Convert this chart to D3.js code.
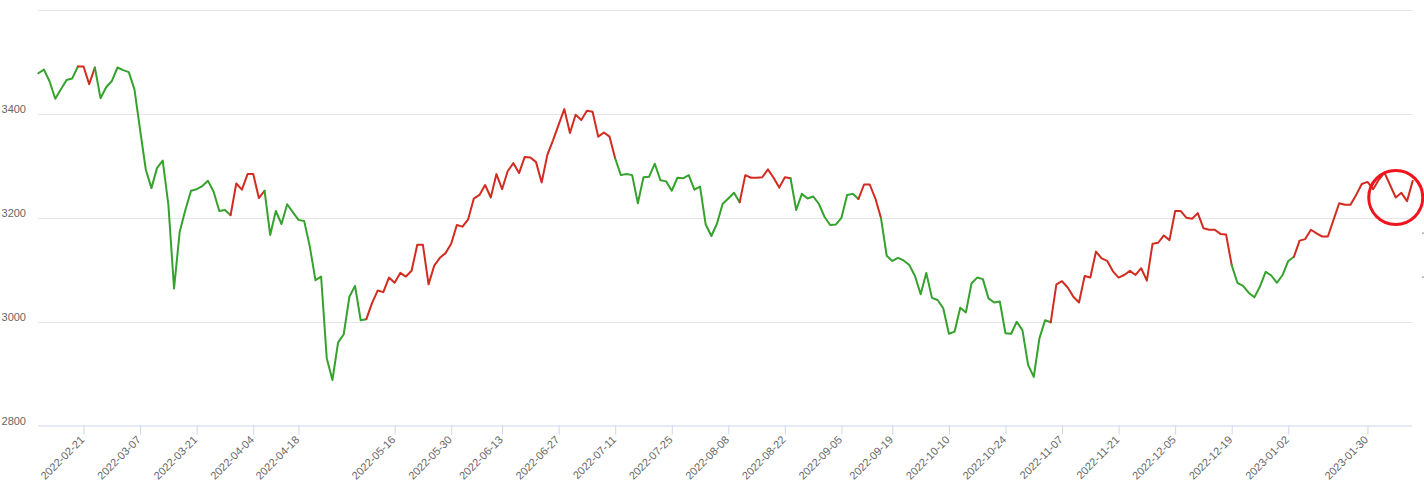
<!DOCTYPE html>
<html>
<head>
<meta charset="utf-8">
<script src="https://cdn.jsdelivr.net/npm/d3@7/dist/d3.min.js"></script>
<style>
  html, body { margin: 0; padding: 0; background: #ffffff; }
  svg { display: block; }
  text { font-family: "Liberation Sans", Arial, sans-serif; }
</style>
</head>
<body>
<svg id="chart" width="1424" height="501"></svg>
<script>
// ---- categories: trading days, listed per month ----
const tradingMonths = [
  ["2022-02", [9,10,11,14,15,16,17,18,21,22,23,24,25,28]],
  ["2022-03", [1,2,3,4,7,8,9,10,11,14,15,16,17,18,21,22,23,24,25,28,29,30,31]],
  ["2022-04", [1,6,7,8,11,12,13,14,15,18,19,20,21,22,25,26,27,28,29]],
  ["2022-05", [5,6,9,10,11,12,13,16,17,18,19,20,23,24,25,26,27,30,31]],
  ["2022-06", [1,2,6,7,8,9,10,13,14,15,16,17,20,21,22,23,24,27,28,29,30]],
  ["2022-07", [1,4,5,6,7,8,11,12,13,14,15,18,19,20,21,22,25,26,27,28,29]],
  ["2022-08", [1,2,3,4,5,8,9,10,11,12,15,16,17,18,19,22,23,24,25,26,29,30,31]],
  ["2022-09", [1,2,5,6,7,8,9,13,14,15,16,19,20,21,22,23,26,27,28,29,30]],
  ["2022-10", [10,11,12,13,14,17,18,19,20,21,24,25,26,27,28,31]],
  ["2022-11", [1,2,3,4,7,8,9,10,11,14,15,16,17,18,21,22,23,24,25,28,29,30]],
  ["2022-12", [1,2,5,6,7,8,9,12,13,14,15,16,19,20,21,22,23,26,27,28,29,30]],
  ["2023-01", [3,4,5,6,9,10,11,12,13,16,17,18,19,20,30,31]],
  ["2023-02", [1,2,3,6,7,8,9]]
];
const dates = tradingMonths.flatMap(([m, ds]) => ds.map(d => m + "-" + String(d).padStart(2, "0")));

// ---- series values (index close) ----
const values = [
  3479,3486,3463,3430,3448,3466,3469,3492,3492,3458,
  3490,3431,3452,3464,3490,3485,3481,3448,3370,3294,
  3258,3297,3311,3226,3065,3174,3216,3253,3256,3262,
  3272,3251,3214,3216,3206,3267,3255,3285,3285,3239,
  3253,3168,3214,3189,3227,3212,3197,3195,3146,3081,
  3088,2931,2889,2961,2977,3049,3070,3004,3006,3037,
  3061,3058,3086,3076,3095,3088,3099,3149,3149,3073,
  3109,3124,3133,3151,3187,3184,3198,3238,3245,3264,
  3240,3285,3256,3291,3306,3287,3318,3317,3308,3269,
  3322,3350,3380,3410,3364,3399,3389,3407,3405,3357,
  3365,3357,3315,3283,3285,3283,3229,3279,3280,3305,
  3273,3271,3253,3278,3277,3283,3255,3261,3188,3166,
  3190,3228,3238,3249,3231,3283,3278,3278,3279,3294,
  3278,3259,3279,3277,3216,3247,3238,3242,3228,3203,
  3187,3188,3201,3245,3247,3237,3265,3265,3238,3200,
  3128,3118,3124,3119,3110,3089,3054,3095,3047,3043,
  3027,2978,2982,3028,3019,3075,3086,3083,3046,3038,
  3040,2979,2978,3001,2985,2918,2895,2969,3004,3000,
  3073,3079,3067,3049,3038,3089,3086,3136,3123,3118,
  3098,3086,3091,3099,3091,3104,3080,3151,3153,3167,
  3158,3214,3214,3201,3199,3210,3181,3178,3178,3170,
  3169,3110,3076,3070,3057,3048,3069,3097,3090,3076,
  3091,3118,3126,3157,3160,3178,3171,3165,3165,3197,
  3229,3226,3226,3245,3266,3270,3256,3274,3288,3264,
  3240,3249,3233,3272
];

// ---- red (up-trend) periods; everything else is green ----
const redRanges = [
  ["2022-02-18", "2022-02-23"],
  ["2022-03-29", "2022-04-08"],
  ["2022-05-09", "2022-07-11"],
  ["2022-08-10", "2022-08-23"],
  ["2022-09-08", "2022-09-15"],
  ["2022-11-03", "2022-12-19"],
  ["2023-01-04", "2023-02-09"]
];

// ---- axis ticks ----
const xTickLabels = ["2022-02-21","2022-03-07","2022-03-21","2022-04-04","2022-04-18","2022-05-16","2022-05-30",
  "2022-06-13","2022-06-27","2022-07-11","2022-07-25","2022-08-08","2022-08-22","2022-09-05","2022-09-19",
  "2022-10-10","2022-10-24","2022-11-07","2022-11-21","2022-12-05","2022-12-19","2023-01-02","2023-01-30"];
const xTickAt = ["2022-02-21","2022-03-07","2022-03-21","2022-04-06","2022-04-18","2022-05-16","2022-05-30",
  "2022-06-13","2022-06-27","2022-07-11","2022-07-25","2022-08-08","2022-08-22","2022-09-05","2022-09-19",
  "2022-10-10","2022-10-24","2022-11-07","2022-11-21","2022-12-05","2022-12-19","2023-01-03","2023-01-30"];
const yGrid = [3000, 3200, 3400, 3600];
const yTickLabels = [2800, 3000, 3200, 3400];
const markDate = "2023-02-06";

// ---- drawing ----
(function draw() {
  const svg = d3.select("#chart");
  const plotLeft = 38.3, plotRight = 1412.7, plotTop = 10.3, plotBottom = 426.3;
  const x = d3.scalePoint().domain(dates).range([plotLeft, plotRight]);
  const y = d3.scaleLinear().domain([2800, 3600]).range([plotBottom, plotTop]);
  const crisp = v => Math.round(v) + 0.5;

  svg.append("rect").attr("width", 1424).attr("height", 501).attr("fill", "#fff");

  // grid lines
  svg.append("g").selectAll("line").data(yGrid).join("line")
    .attr("x1", 38).attr("x2", 1412)
    .attr("y1", d => crisp(y(d))).attr("y2", d => crisp(y(d)))
    .attr("stroke", "#e6e6e6").attr("stroke-width", 1);

  // y axis labels
  const yAxis = svg.append("g").attr("transform", "translate(26,0)")
    .call(d3.axisLeft(y).tickValues(yTickLabels).tickSize(0).tickPadding(0).tickFormat(d3.format("d")));
  yAxis.select(".domain").remove();
  yAxis.selectAll("text")
    .attr("x", 0).attr("dy", "-2px")
    .attr("fill", "#666").style("font-size", "11px").style("font-family", "'Liberation Sans', Arial, sans-serif");

  // x axis
  const xAxis = svg.append("g").attr("transform", `translate(0,${crisp(plotBottom) - 1})`)
    .call(d3.axisBottom(x).tickValues(xTickAt).tickSize(9).tickFormat((d, i) => xTickLabels[i]));
  xAxis.select(".domain").attr("d", "M38,0.5H1412").attr("stroke", "#ccd6eb");
  xAxis.selectAll(".tick line").attr("stroke", "#ccd6eb");
  xAxis.selectAll(".tick text")
    .attr("fill", "#666").style("font-size", "11px").style("font-family", "'Liberation Sans', Arial, sans-serif")
    .attr("text-anchor", "end").attr("dy", null).attr("y", null)
    .attr("transform", "translate(1,15) rotate(-45)");

  // line split into red / green runs
  const inRed = (a, b) => redRanges.some(([s, e]) => a >= s && b <= e);
  const pts = dates.map((d, i) => ({ d, v: values[i] }));
  const runs = [];
  for (let i = 0; i < pts.length - 1; i++) {
    const red = inRed(pts[i].d, pts[i + 1].d);
    const last = runs[runs.length - 1];
    if (last && last.red === red) last.pts.push(pts[i + 1]);
    else runs.push({ red, pts: [pts[i], pts[i + 1]] });
  }
  const line = d3.line().x(p => x(p.d)).y(p => y(p.v));
  svg.append("g").selectAll("path").data(runs).join("path")
    .attr("d", r => line(r.pts))
    .attr("fill", "none")
    .attr("stroke", r => r.red ? "#d22b1f" : "#34a22d")
    .attr("stroke-width", 2)
    .attr("stroke-linejoin", "round")
    .attr("stroke-linecap", "round");

  // highlight circle around a data point
  const mi = dates.indexOf(markDate);
  svg.append("circle")
    .attr("cx", x(markDate)).attr("cy", y(values[mi]))
    .attr("r", 27).attr("fill", "none").attr("stroke", "#f0141e").attr("stroke-width", 3);

  // clipped marks at the right edge
  svg.append("g").selectAll("rect").data([232.5, 276.5]).join("rect")
    .attr("x", 1422).attr("y", d => d).attr("width", 2).attr("height", 1.2).attr("fill", "#999");
})();
</script>
</body>
</html>
